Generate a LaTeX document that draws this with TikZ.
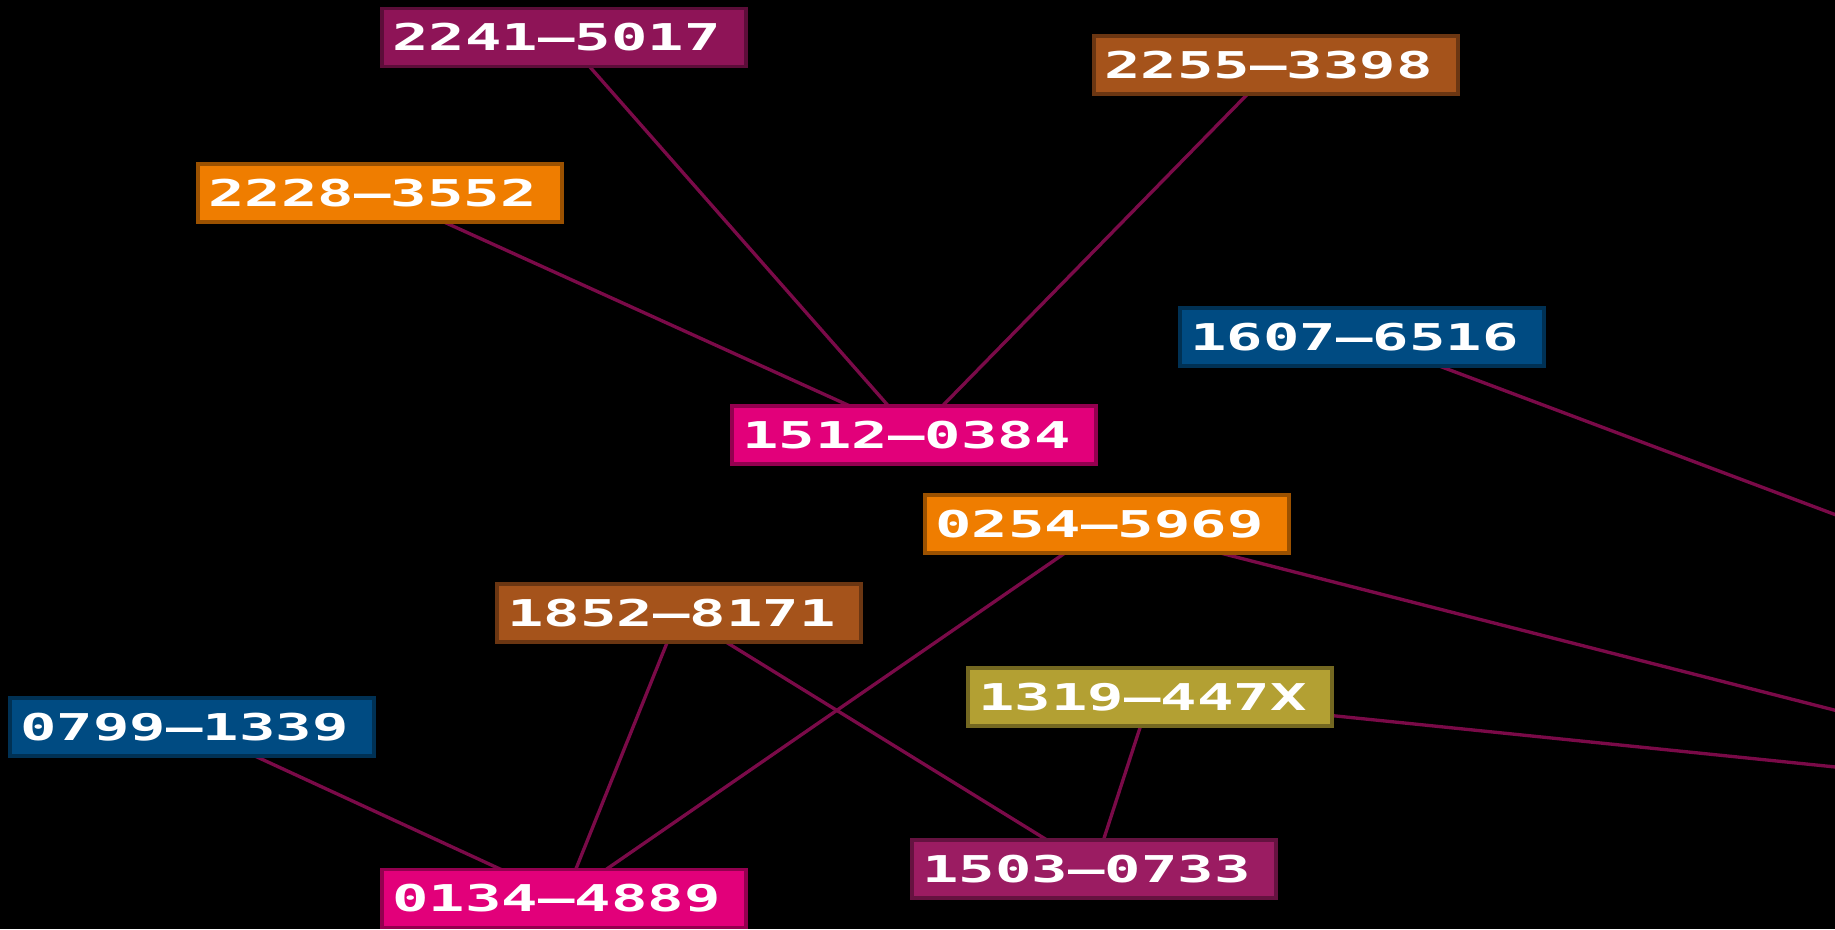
\documentclass[tikz,border=0pt]{standalone}
\usepackage{fontspec}
\newfontfamily\pixfont[FakeStretch=1.64]{DejaVu Sans Mono Bold}
\definecolor{cmag}{RGB}{142,20,87}
\definecolor{cbrown}{RGB}{165,83,27}
\definecolor{corange}{RGB}{239,125,0}
\definecolor{cblue}{RGB}{0,75,130}
\definecolor{cpink}{RGB}{226,0,122}
\definecolor{cgold}{RGB}{179,160,51}
\definecolor{cpurple}{RGB}{155,28,98}
\definecolor{cedge}{RGB}{122,10,72}
\pgfdeclarelayer{bgzero}
\pgfdeclarelayer{bgone}
\pgfsetlayers{bgzero,bgone,main}
\tikzset{
  tag/.style={fill=#1, draw=#1!65!black, line width=1pt, text=white,
    minimum width=3.64cm, minimum height=0.58cm, inner sep=0pt,
    font=\pixfont\fontsize{10.5}{12}\selectfont},
  link/.style={draw=cedge, line width=0.95pt}
}
\newcommand{\tg}[1]{#1\kern0.15cm}
\begin{document}
\begin{tikzpicture}[x=0.01cm,y=-0.01cm]
\begin{pgfonlayer}{bgzero}
\fill[black] (0,0) rectangle (1835,929);
\end{pgfonlayer}
\useasboundingbox (0,0) rectangle (1835,929);
\clip (0,0) rectangle (1835,929);
\node[tag=cmag] (a) at (564,37.5) {\tg{2241–5017}};
\node[tag=cbrown] (b) at (1276,65) {\tg{2255–3398}};
\node[tag=corange] (c) at (380,193) {\tg{2228–3552}};
\node[tag=cblue] (d) at (1362,337) {\tg{1607–6516}};
\node[tag=cpink] (e) at (914,435) {\tg{1512–0384}};
\node[tag=corange] (f) at (1107,524) {\tg{0254–5969}};
\node[tag=cbrown] (g) at (679,613) {\tg{1852–8171}};
\node[tag=cblue] (h) at (192,727) {\tg{0799–1339}};
\node[tag=cgold] (i) at (1150,697) {\tg{1319–447X}};
\node[tag=cpurple] (j) at (1094,869) {\tg{1503–0733}};
\node[tag=cpink] (k) at (564,898.5) {\tg{0134–4889}};
\coordinate (dout) at (2100,614);
\coordinate (fout) at (2100,778);
\coordinate (iout) at (2100,794);
\begin{pgfonlayer}{bgone}
\draw[link] (a.center) -- (e.center);
\draw[link] (b.center) -- (e.center);
\draw[link] (c.center) -- (e.center);
\draw[link] (d.center) -- (dout);
\draw[link] (f.center) -- (fout);
\draw[link] (i.center) -- (iout);
\draw[link] (f.center) -- (k.center);
\draw[link] (g.center) -- (k.center);
\draw[link] (g.center) -- (j.center);
\draw[link] (i.center) -- (j.center);
\draw[link] (h.center) -- (k.center);
\end{pgfonlayer}
\end{tikzpicture}
\end{document}
